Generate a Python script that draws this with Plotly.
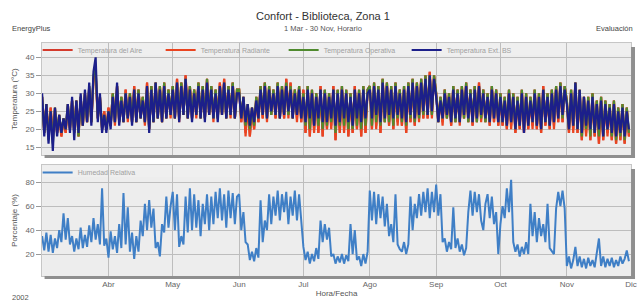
import plotly.graph_objects as go
import pandas as pd

# ---------------- data (daily alternating high/low readings, 1 Mar - 30 Nov 2002) -------------
fechas = pd.date_range("2002-03-01", periods=275, freq="D")

temp_ext_bs = (
    [30,18,27,16,25,14,26,18,24,19,23,20,27,19,29,17,28,19,30,21,31,22,33,21,36,40,22,30,19,24,19]
    + [25,20,29,22,33,21,28,22,30,23,29,21,31,22,30,23,28,22,32,19,31,22,33,23,31,22,32,23,30,24]
    + [31,23,33,22,32,24,34,23,31,22,30,24,32,23,31,22,33,24,31,23,30,22,32,24,33,23,31,24,32,23,30]
    + [30,23,29,22,27,21,26,22,28,23,31,24,32,23,31,25,30,24,32,23,31,24,32,25,31,23,30,24,31,23]
    + [29,22,31,23,30,21,29,23,31,22,30,22,29,23,31,21,30,22,31,23,30,22,29,21,31,23,30,22,31,23,30]
    + [31,23,32,24,31,22,33,23,32,24,31,23,32,24,30,23,31,22,32,24,33,23,32,24,33,25,34,24,35,25,34]
    + [29,22,28,23,30,24,29,22,31,23,30,22,31,24,32,23,30,22,31,23,32,24,30,23,29,22,31,23,30,22]
    + [29,22,28,21,30,22,29,20,28,21,30,19,29,21,28,22,30,21,29,20,31,22,29,21,30,22,31,23,32,24,31]
    + [27,20,30,21,33,20,31,19,29,21,28,20,29,19,27,20,28,18,27,20,26,19,27,18,25,19,26,18,25,20]
)

temp_aire = (
    [29,19,27,18,26,17,26,19,24,18,23,19,27,20,28,19,28,18,29,21,30,22,32,22,34,36,23,29,20,25,20]
    + [26,21,30,22,32,22,29,22,31,23,30,22,32,22,31,23,29,22,33,20,32,22,33,23,32,22,33,23,31,24]
    + [32,23,34,23,33,24,35,23,32,23,31,24,33,23,32,23,34,24,32,23,31,23,33,24,34,23,32,24,33,23,31]
    + [31,22,29,19,27,18,26,20,29,22,32,23,33,23,32,24,31,23,33,23,32,23,34,24,33,23,31,23,32,22]
    + [31,19,32,18,31,20,30,19,32,18,31,20,30,21,32,17,31,19,32,20,31,18,30,19,32,20,31,18,32,19,31]
    + [32,20,33,21,32,19,34,22,33,21,32,20,33,22,31,21,32,19,33,22,34,21,33,23,34,23,35,23,36,24,35]
    + [30,22,29,22,31,23,30,21,32,22,31,22,32,23,33,22,31,21,32,22,33,23,31,22,30,21,32,22,31,21]
    + [30,21,29,20,31,21,30,19,29,20,31,19,30,20,29,21,31,20,30,19,32,21,30,20,31,21,32,22,33,22,32]
    + [28,19,31,20,33,19,31,17,29,19,29,17,30,18,28,16,29,17,28,19,27,17,28,16,26,17,27,16,26,18]
)

temp_radiante = (
    [29,19,27,18,26,18,25,19,24,18,23,19,26,20,28,19,28,18,29,21,30,22,31,22,34,35,23,29,20,25,20]
    + [26,21,30,21,32,22,29,22,31,22,30,22,32,22,31,23,29,21,33,20,32,22,33,23,32,22,33,23,31,23]
    + [32,23,34,22,33,24,35,23,32,23,31,23,33,23,32,23,34,24,32,22,31,23,33,24,34,23,32,23,33,23,31]
    + [31,22,29,18,27,18,26,20,29,22,32,23,33,22,32,24,31,23,33,23,32,23,34,23,33,23,31,22,32,22]
    + [31,19,32,18,31,19,30,19,32,18,31,20,30,20,32,17,31,19,32,19,31,18,30,19,32,20,31,18,32,19,31]
    + [32,20,33,20,32,19,34,22,33,21,32,20,33,21,31,21,32,19,33,22,34,21,33,22,34,23,35,23,36,23,35]
    + [30,22,29,21,31,23,30,21,32,22,31,21,32,23,33,22,31,21,32,22,33,22,31,22,30,21,32,22,31,21]
    + [30,21,29,20,31,20,30,19,29,20,31,19,30,20,29,20,31,20,30,19,32,21,30,20,31,20,32,22,33,22,32]
    + [28,19,31,19,33,19,31,17,29,18,29,17,30,18,28,16,29,17,28,18,27,17,28,16,26,17,27,16,26,18]
)

temp_operativa = (
    [29,19,27,17,25,16,26,19,24,19,23,20,27,20,28,19,28,18,29,21,30,22,32,22,35,37,23,29,20,24,20]
    + [25,21,30,22,32,22,29,22,30,23,30,22,31,22,31,23,29,22,32,20,32,22,33,23,32,22,33,23,31,24]
    + [32,23,33,23,33,24,34,23,32,23,31,24,33,23,32,23,34,24,32,23,31,23,32,24,33,23,32,24,33,23,31]
    + [31,23,29,21,27,20,26,21,29,23,32,24,33,23,32,24,31,24,33,23,32,24,33,24,32,23,31,24,32,23]
    + [30,21,32,20,31,21,30,21,31,20,31,21,30,22,31,19,31,21,32,21,31,20,30,20,31,21,31,20,32,21,31]
    + [32,21,33,22,32,21,34,22,33,22,32,21,33,23,31,22,32,21,33,23,34,22,33,23,34,24,35,24,35,24,35]
    + [30,22,29,23,31,23,30,22,32,22,31,22,32,23,33,22,31,22,32,22,32,23,31,22,30,22,32,23,31,22]
    + [30,22,29,21,31,22,30,20,29,21,31,20,30,21,29,22,31,21,30,20,31,22,30,21,31,22,32,23,33,23,32]
    + [28,20,31,21,33,20,31,18,29,20,29,18,30,19,28,18,29,18,28,20,27,18,28,17,26,18,27,17,26,19]
)

humedad_relativa = (
    [35,23,38,22,36,21,33,25,40,30,54,32,50,28,35,22,33,24,42,25,36,26,44,30,50,32,45,28,75,27,33]
    + [17,39,24,35,21,45,25,71,28,59,22,38,16,35,22,48,35,62,40,65,42,58,25,30,18,45,38,68,42,60]
    + [72,40,70,26,35,28,68,38,75,40,70,42,65,35,62,45,70,40,68,45,72,50,75,48,70,42,73,50,71,45,68]
    + [70,40,55,30,28,15,22,14,25,17,65,30,48,40,70,45,68,52,73,48,70,55,72,45,68,52,73,48,70,50]
    + [26,15,22,12,20,14,25,16,48,30,45,32,42,18,20,12,18,13,20,12,19,14,45,20,40,15,18,10,20,12,22]
    + [73,48,72,45,70,50,68,43,62,35,45,30,70,28,24,22,30,20,28,68,40,62,50,70,52,72,55,75,50,72,55]
    + [78,52,70,30,33,22,30,24,59,25,33,22,28,19,25,55,73,52,72,55,70,48,40,62,70,50,68,45,55,20]
    + [45,60,50,75,55,82,30,22,28,18,26,20,30,20,62,35,55,30,50,35,45,30,62,25,22,20,58,72,60,73,58]
    + [10,18,8,15,26,10,18,9,16,8,17,10,15,9,20,33,10,18,9,16,10,17,9,15,10,18,12,16,23,14]
)

meses_tickvals = ["2002-04-01", "2002-05-01", "2002-06-01", "2002-07-01", "2002-08-01",
                  "2002-09-01", "2002-10-01", "2002-11-01", "2002-12-01"]
meses_ticktext = ["Abr", "May", "Jun", "Jul", "Ago", "Sep", "Oct", "Nov", "Dic"]
temp_tickvals = [15, 20, 25, 30, 35, 40]
hum_tickvals = [20, 40, 60, 80]

# ---------------- figure -------------
W, H = 644, 301
FONT = "Liberation Sans, Arial, sans-serif"

def px(x):
    return x / W

def py(y):
    return 1 - y / H

fig = go.Figure()

LW = 2.2
fig.add_trace(go.Scatter(x=fechas, y=temp_aire, name="Temperatura del Aire", mode="lines",
                         line=dict(color="#d43a2c", width=LW), legend="legend"))
fig.add_trace(go.Scatter(x=fechas, y=temp_radiante, name="Temperatura Radiante", mode="lines",
                         line=dict(color="#ea4420", width=LW), legend="legend"))
fig.add_trace(go.Scatter(x=fechas, y=temp_operativa, name="Temperatura Operativa", mode="lines",
                         line=dict(color="#4f8a2e", width=LW), legend="legend"))
fig.add_trace(go.Scatter(x=fechas, y=temp_ext_bs, name="Temperatura Ext. BS", mode="lines",
                         line=dict(color="#1c1f8a", width=LW), legend="legend"))
fig.add_trace(go.Scatter(x=fechas, y=humedad_relativa, name="Humedad Relativa", mode="lines",
                         line=dict(color="#3f7fc6", width=2.0), xaxis="x2", yaxis="y2",
                         legend="legend2"))

grid = "#bdbdbd"
frame = "#c6c6c6"
tickfont = dict(family=FONT, size=8, color="#666666")

xcommon = dict(type="date", range=["2002-03-01", "2002-12-01"], tickvals=meses_tickvals,
               ticktext=meses_ticktext, showgrid=True, gridcolor=grid, gridwidth=1,
               showline=True, linecolor=frame, mirror=True, zeroline=False,
               domain=[px(42.5), px(637)], tickfont=tickfont, ticks="")

fig.update_layout(
    width=W, height=H,
    margin=dict(l=0, r=0, t=0, b=0),
    paper_bgcolor="white",
    plot_bgcolor="#ededed",
    showlegend=True,
    xaxis=dict(**xcommon, anchor="y", showticklabels=False),
    yaxis=dict(domain=[py(155), py(43)], range=[12.86, 43.97], tickvals=temp_tickvals,
               showgrid=True, gridcolor=grid, showline=True, linecolor=frame, mirror=True,
               zeroline=False, ticks="outside", ticklen=5, tickcolor="#999999",
               tickfont=tickfont,
               title=dict(text="Temperatura (°C)", font=dict(family=FONT, size=8, color="#555555"),
                          standoff=6)),
    xaxis2=dict(**xcommon, anchor="y2", showticklabels=True,
                title=dict(text="Hora/Fecha", font=dict(family=FONT, size=8, color="#555555"),
                           standoff=2)),
    yaxis2=dict(domain=[py(276), py(165)], range=[1.67, 94.4], tickvals=hum_tickvals,
                showgrid=True, gridcolor=grid, showline=True, linecolor=frame, mirror=True,
                zeroline=False, ticks="outside", ticklen=5, tickcolor="#999999",
                tickfont=tickfont,
                title=dict(text="Porcentaje (%)", font=dict(family=FONT, size=8, color="#555555"),
                           standoff=6)),
    legend=dict(orientation="h", x=px(38), xanchor="left", y=py(50), yanchor="middle",
                bgcolor="rgba(0,0,0,0)", font=dict(family=FONT, size=7, color="#a0a0a0"),
                entrywidth=78, itemwidth=30, tracegroupgap=0),
    legend2=dict(orientation="h", x=px(38), xanchor="left", y=py(172.5), yanchor="middle",
                 bgcolor="rgba(0,0,0,0)", font=dict(family=FONT, size=7, color="#a0a0a0"),
                 itemwidth=30),
)

# legend strip background (hides grid behind the legend row) and frame shadows
shapes = [
    dict(type="rect", xref="paper", yref="paper", x0=px(43), x1=px(636.5), y0=py(55), y1=py(43.5),
         fillcolor="#efefef", line=dict(width=0), layer="between"),
    dict(type="rect", xref="paper", yref="paper", x0=px(43), x1=px(636.5), y0=py(177), y1=py(165.5),
         fillcolor="#efefef", line=dict(width=0), layer="between"),
    dict(type="rect", xref="paper", yref="paper", x0=px(45), x1=px(641), y0=py(158), y1=py(155),
         fillcolor="#8f8f8f", line=dict(width=0)),
    dict(type="rect", xref="paper", yref="paper", x0=px(637), x1=px(641), y0=py(158), y1=py(47),
         fillcolor="#8f8f8f", line=dict(width=0)),
    dict(type="rect", xref="paper", yref="paper", x0=px(45), x1=px(641), y0=py(279), y1=py(276),
         fillcolor="#8f8f8f", line=dict(width=0)),
    dict(type="rect", xref="paper", yref="paper", x0=px(637), x1=px(641), y0=py(279), y1=py(169),
         fillcolor="#8f8f8f", line=dict(width=0)),
]
fig.update_layout(shapes=shapes)

ann = [
    dict(text="Confort - Biblioteca, Zona 1", x=px(326), y=py(16), size=11, color="#333333",
         xanchor="center"),
    dict(text="1 Mar - 30 Nov, Horario", x=px(326), y=py(29), size=7.5, color="#555555",
         xanchor="center"),
    dict(text="EnergyPlus", x=px(10), y=py(29), size=7.5, color="#444444", xanchor="left"),
    dict(text="Evaluación", x=px(641), y=py(29), size=7.5, color="#444444", xanchor="right"),
    dict(text="2002", x=px(10), y=py(297), size=7.5, color="#555555", xanchor="left"),
]
for a in ann:
    fig.add_annotation(text=a["text"], x=a["x"], y=a["y"], xref="paper", yref="paper",
                       xanchor=a["xanchor"], yanchor="middle", showarrow=False,
                       font=dict(family=FONT, size=a["size"], color=a["color"]))

fig.write_html("out.html", config={"displayModeBar": False},
               post_script="document.body.style.margin='0';")
